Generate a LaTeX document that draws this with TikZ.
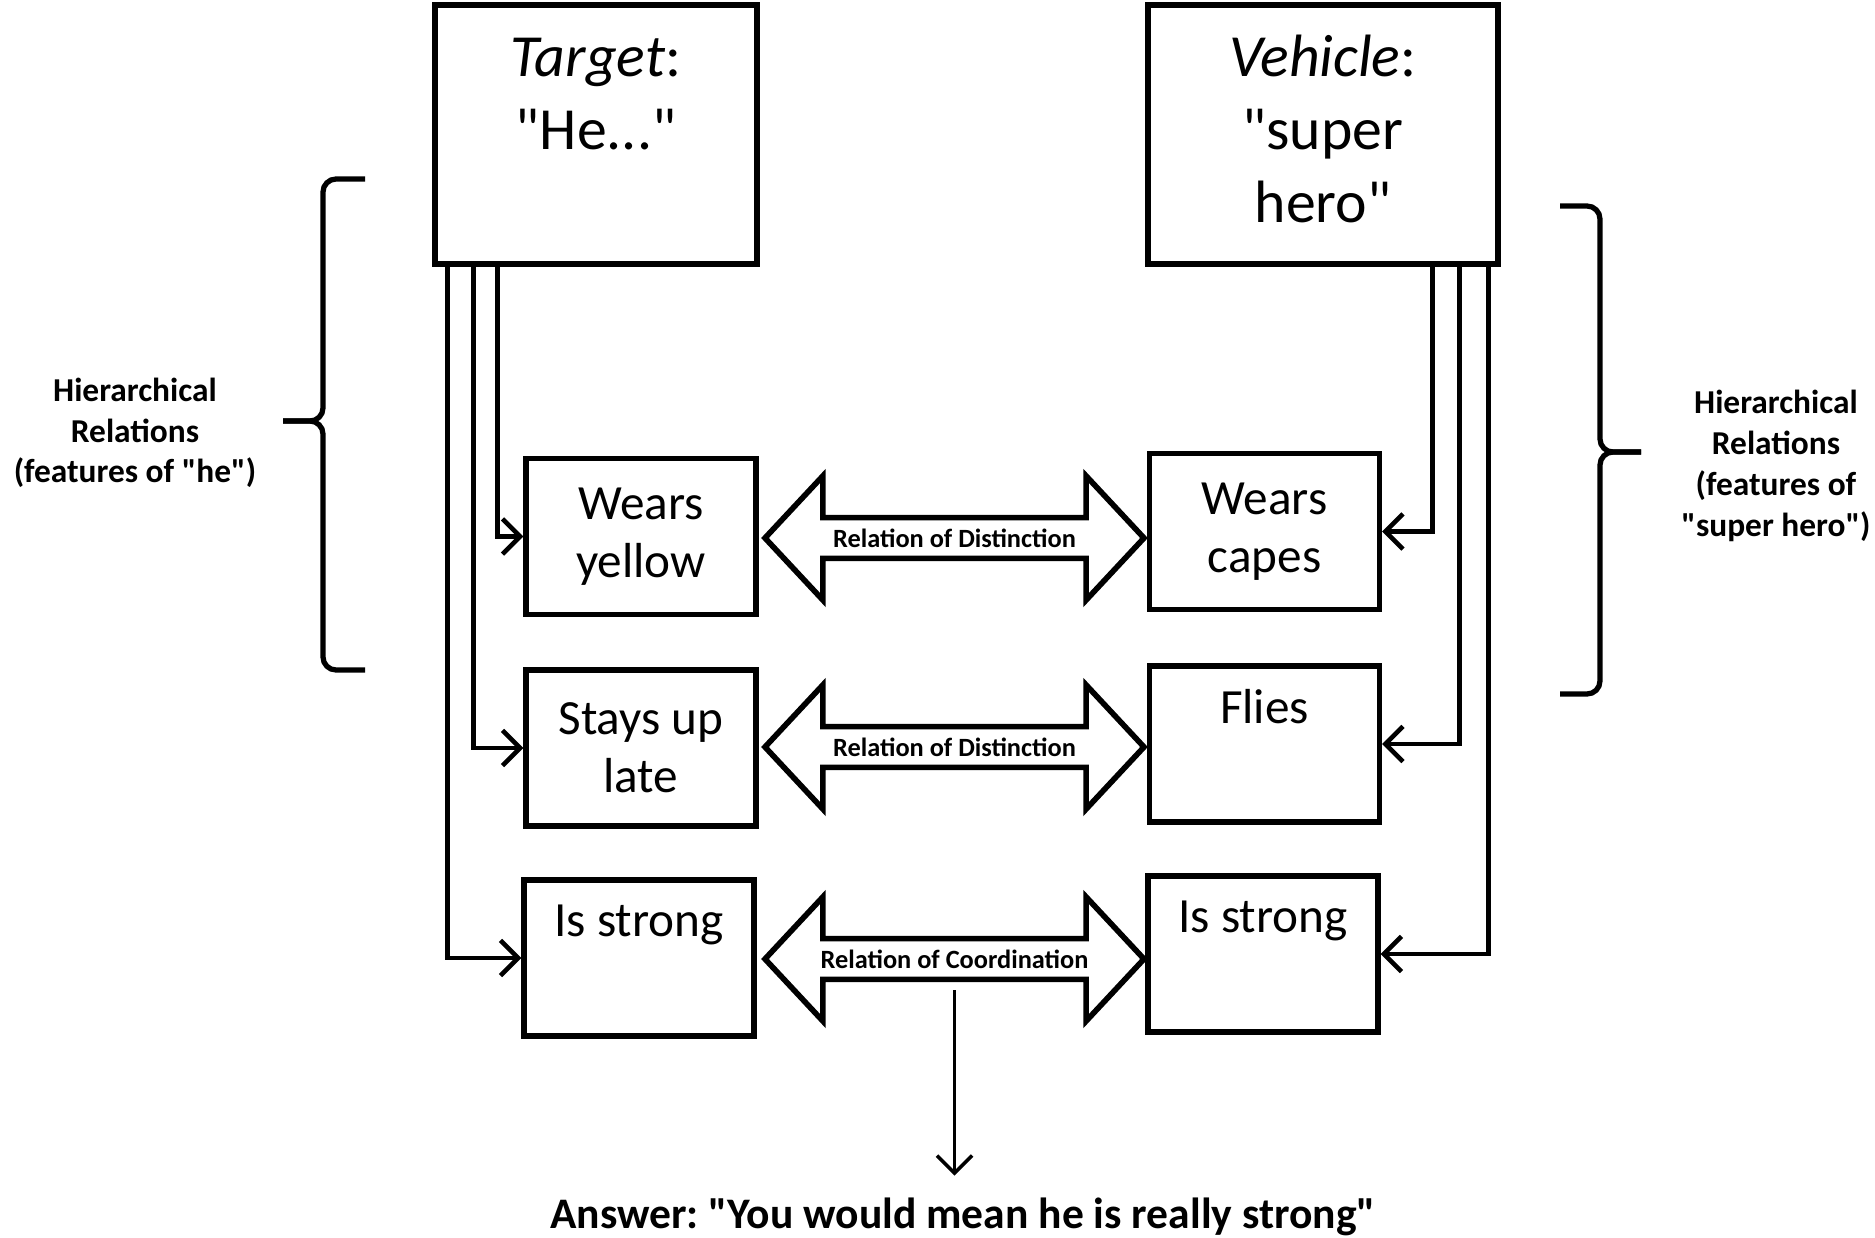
\documentclass[tikz,border=0pt]{standalone}
\usepackage{fontspec}
\setmainfont{Carlito}[Ligatures=TeXOff]
\usetikzlibrary{arrows.meta,shapes.arrows}
\frenchspacing

\begin{document}
\begin{tikzpicture}[
  big/.style={draw, line width=1.5pt, minimum height=2.59cm, align=center, font=\fontsize{17}{20.8}\selectfont},
  box/.style={draw, line width=1.5pt, minimum width=2.3cm, minimum height=1.56cm, align=center, font=\fontsize{14}{16.4}\selectfont},
  rel/.style={double arrow, draw, line width=1.6pt, minimum height=3.79cm, minimum width=1.24cm, double arrow head extend=0.32cm, double arrow tip angle=94, inner sep=1pt, font=\bfseries\fontsize{7.5}{8}\selectfont},
  arrow/.style={-{Straight Barb[length=5pt,width=10pt]}, line width=1.3pt},
  lab/.style={align=center, font=\bfseries\fontsize{9.5}{11.6}\selectfont},
  brc/.style={line width=1.5pt, rounded corners=0.13cm}
]
  \useasboundingbox (0,0) rectangle (18.75,-12.38);

  \node[big, minimum width=3.22cm] (tgt) at (5.96,-1.345) {\strut\textit{Target}:\\\strut"He..."\\\strut};
  \node[big, minimum width=3.5cm] (veh) at (13.23,-1.345) {\strut\textit{Vehicle}:\\\strut"super\\\strut hero"};

  \node[box] (ly) at (6.41,-5.365) {Wears\\yellow};
  \node[box] (ls) at (6.41,-7.48) {Stays up\\late};
  \node[box] (lstr) at (6.39,-9.58) {Is strong\\\strut};
  \node[box] (rw) at (12.645,-5.315) {Wears\\capes};
  \node[box] (rf) at (12.645,-7.44) {Flies\\\strut};
  \node[box] (rstr) at (12.63,-9.54) {Is strong\\\strut};

  \node[rel] (d1) at (9.545,-5.38) {Relation of Distinction};
  \node[rel] (d2) at (9.545,-7.47) {Relation of Distinction};
  \node[rel] (d3) at (9.545,-9.59) {Relation of Coordination};

  \draw[arrow] ([xshift=0.65cm]tgt.south west) |- (ly);
  \draw[arrow] ([xshift=0.41cm]tgt.south west) |- (ls);
  \draw[arrow] ([xshift=0.15cm]tgt.south west) |- (lstr);
  \draw[arrow] ([xshift=-0.68cm]veh.south east) |- (rw);
  \draw[arrow] ([xshift=-0.41cm]veh.south east) |- (rf);
  \draw[arrow] ([xshift=-0.12cm]veh.south east) |- (rstr);

  \node[font=\bfseries\fontsize{12.4}{14}\selectfont] (ans) at (9.63,-12.17) {Answer: "You would mean he is really strong"};
  \draw[arrow, line width=1pt] ([yshift=-0.08cm]d3.south) -- ([yshift=0.1cm]d3.south |- ans.north);

  % hierarchical relations
  \node[lab] (hl) at (1.35,-4.33) {Hierarchical\\Relations\\(features of "he")};
  \node[lab] (hr) at (17.76,-4.66) {Hierarchical\\Relations\\(features of\\"super hero")};
  \draw[brc] (3.65,-1.79) -- (3.23,-1.79) -- (3.23,-4.21) -- (2.83,-4.21);
  \draw[brc] (2.83,-4.21) -- (3.23,-4.21) -- (3.23,-6.7) -- (3.65,-6.7);
  \draw[brc] (15.6,-2.06) -- (16.0,-2.06) -- (16.0,-4.52) -- (16.41,-4.52);
  \draw[brc] (16.41,-4.52) -- (16.0,-4.52) -- (16.0,-6.94) -- (15.6,-6.94);
\end{tikzpicture}
\end{document}
